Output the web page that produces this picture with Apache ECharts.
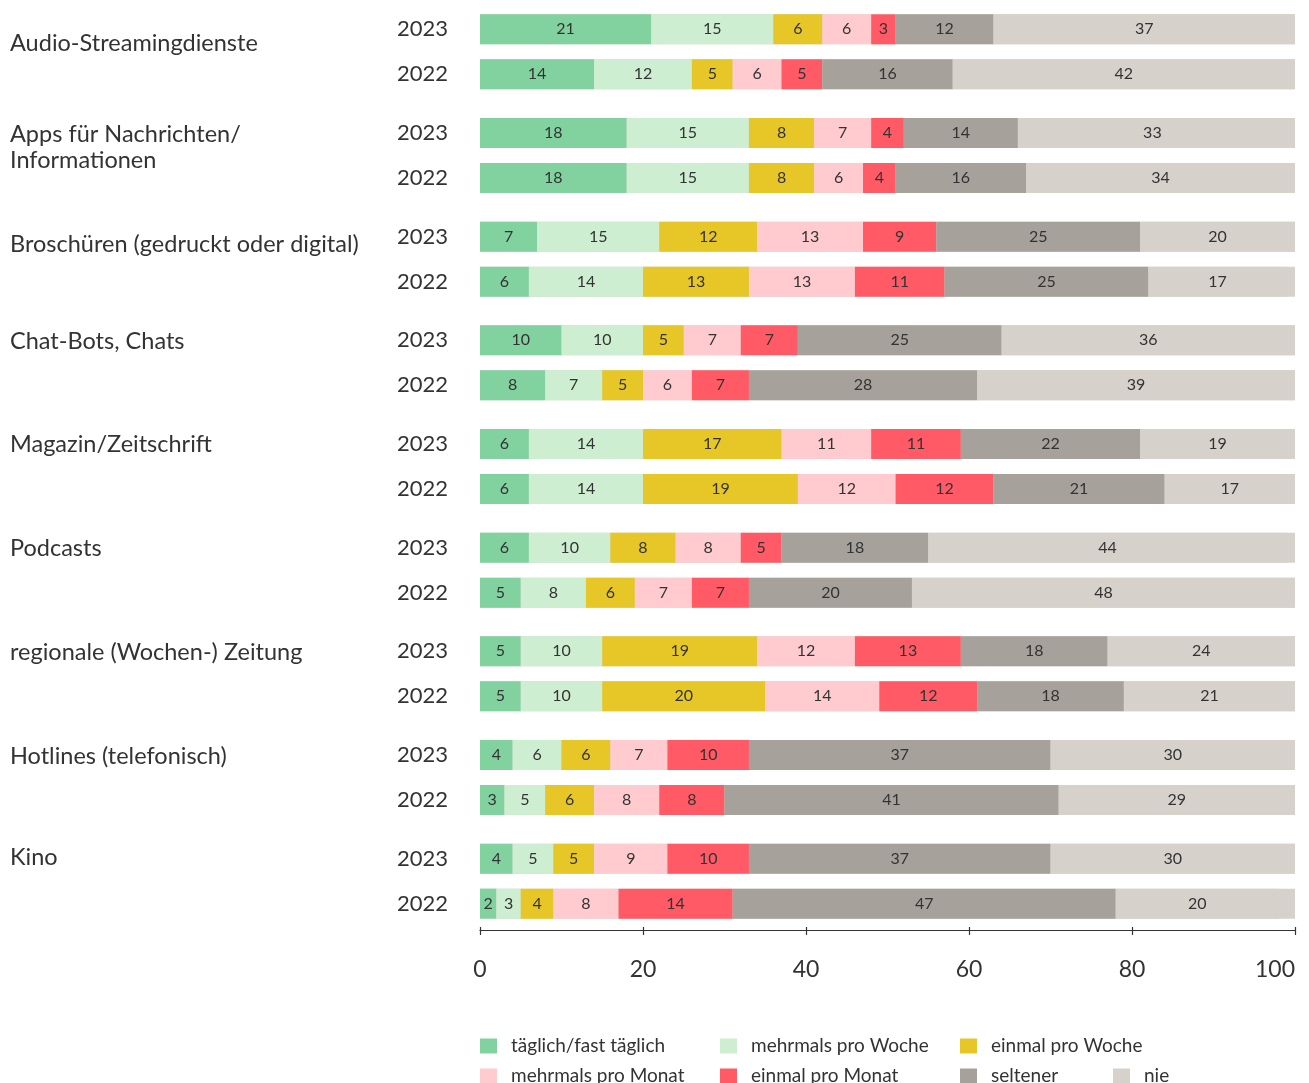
<!DOCTYPE html>
<html><head><meta charset="utf-8">
<script src="https://cdn.jsdelivr.net/npm/echarts@6/dist/echarts.min.js"></script>
<style>html,body{margin:0;padding:0;background:#fff}#c{width:1309px;height:1083px}</style>
</head><body><div id="c"></div>
<script>
const categories = ['Audio-Streamingdienste', 'Apps für Nachrichten/\nInformationen', 'Broschüren (gedruckt oder digital)', 'Chat-Bots, Chats', 'Magazin/Zeitschrift', 'Podcasts', 'regionale (Wochen-) Zeitung', 'Hotlines (telefonisch)', 'Kino'];
const years = ['2023', '2022'];
const seriesNames = ['täglich/fast täglich', 'mehrmals pro Woche', 'einmal pro Woche', 'mehrmals pro Monat', 'einmal pro Monat', 'seltener', 'nie'];
const xTicks = [0, 20, 40, 60, 80, 100];

const taeglich2023 = [21, 18, 7, 10, 6, 6, 5, 4, 4];
const taeglich2022 = [14, 18, 6, 8, 6, 5, 5, 3, 2];
const mehrWoche2023 = [15, 15, 15, 10, 14, 10, 10, 6, 5];
const mehrWoche2022 = [12, 15, 14, 7, 14, 8, 10, 5, 3];
const einWoche2023 = [6, 8, 12, 5, 17, 8, 19, 6, 5];
const einWoche2022 = [5, 8, 13, 5, 19, 6, 20, 6, 4];
const mehrMonat2023 = [6, 7, 13, 7, 11, 8, 12, 7, 9];
const mehrMonat2022 = [6, 6, 13, 6, 12, 7, 14, 8, 8];
const einMonat2023 = [3, 4, 9, 7, 11, 5, 13, 10, 10];
const einMonat2022 = [5, 4, 11, 7, 12, 7, 12, 8, 14];
const seltener2023 = [12, 14, 25, 25, 22, 18, 18, 37, 37];
const seltener2022 = [16, 16, 25, 28, 21, 20, 18, 41, 47];
const nie2023 = [37, 33, 20, 36, 19, 44, 24, 30, 30];
const nie2022 = [42, 34, 17, 39, 17, 48, 21, 29, 20];

const data2023 = [taeglich2023, mehrWoche2023, einWoche2023, mehrMonat2023, einMonat2023, seltener2023, nie2023];
const data2022 = [taeglich2022, mehrWoche2022, einWoche2022, mehrMonat2022, einMonat2022, seltener2022, nie2022];

// styling
const colors = ['#82d2a0', '#cdeed0', '#e6c727', '#ffcbcf', '#ff5a65', '#a6a29b', '#d6d2cb'];
const FONT = 'Lato';
const TXT = '#333333';
const nameShift = [16, 17, 29, 43, 45, 43, 43, 43, 47];

const rich = {};
nameShift.forEach((s, i) => { rich['g' + i] = { lineHeight: s, fontSize: 2 }; });

const series = [];
[[data2023, 'a_' + years[0]], [data2022, 'b_' + years[1]]].forEach(([yearData, stackId]) => {
  yearData.forEach((vals, k) => {
    series.push({
      type: 'bar',
      name: seriesNames[k],
      stack: stackId,
      barWidth: 30,
      barGap: '50%',
      data: vals,
      itemStyle: { color: colors[k] },
      showBackground: k === 0,
      backgroundStyle: { color: colors[6] },
      label: {
        show: true, position: 'inside', color: TXT,
        fontFamily: FONT, fontSize: 16
      },
      emphasis: { disabled: true }
    });
  });
});

const legendLayout = [[480, 1036.5], [720, 1036.5], [960, 1036.5], [480, 1066.5], [720, 1066.5], [960, 1066.5], [1113, 1066.5]];
const legends = seriesNames.map((n, i) => ({
  left: legendLayout[i][0], top: legendLayout[i][1], padding: 0,
  itemWidth: 17, itemHeight: 15, itemGap: 0, icon: 'rect', selectedMode: false,
  textStyle: { fontFamily: FONT, fontSize: 19, color: TXT, lineHeight: 17, padding: [0, 0, 0, 9] },
  data: [n]
}));

const chart = echarts.init(document.getElementById('c'), null, { renderer: 'canvas' });
chart.setOption({
  animation: false,
  backgroundColor: '#ffffff',
  textStyle: { fontFamily: FONT },
  grid: { left: 480, right: 14, top: -4, height: 937, containLabel: false },
  xAxis: [{
    type: 'value', min: 0, max: 100, interval: 20, position: 'bottom', offset: -3,
    axisLine: { show: true, lineStyle: { color: '#333', width: 1.2 } },
    axisTick: { show: true, length: 5, lineStyle: { color: '#333', width: 1.2 } },
    splitLine: { show: false },
    axisLabel: {
      fontFamily: FONT, fontSize: 23, color: TXT, margin: 28, alignMaxLabel: 'right',
      formatter: v => xTicks.indexOf(v) >= 0 ? String(v) : ''
    }
  }, {
    type: 'value', min: 0, max: 100, interval: 20, position: 'bottom', offset: -3,
    axisLine: { show: false },
    axisTick: { show: true, inside: true, length: 3, lineStyle: { color: '#333', width: 1.2 } },
    splitLine: { show: false },
    axisLabel: { show: false }
  }],
  yAxis: [{
    type: 'category', data: categories, inverse: true, position: 'left',
    axisLine: { show: false }, axisTick: { show: false },
    axisLabel: {
      align: 'left', margin: 470, fontFamily: FONT, fontSize: 23.5, color: TXT, lineHeight: 26,
      formatter: (v, i) => v + '\n{g' + i + '| }',
      rich: rich
    }
  }, {
    type: 'category', data: categories, inverse: true, position: 'left', offset: 0,
    axisLine: { show: false }, axisTick: { show: false },
    axisLabel: {
      align: 'right', margin: 32, fontFamily: FONT, fontSize: 22, color: TXT, lineHeight: 45,
      formatter: () => years.join('\n')
    }
  }],
  legend: legends,
  series: series
});
</script></body></html>
